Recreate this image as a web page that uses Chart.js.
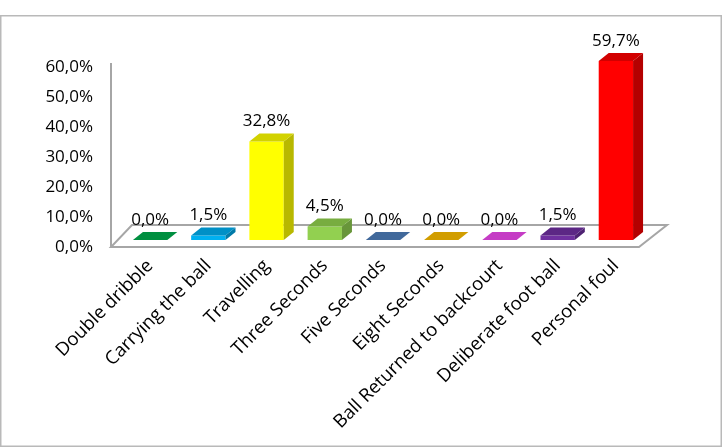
<!DOCTYPE html>
<html>
<head>
<meta charset="utf-8">
<script src="https://cdn.jsdelivr.net/npm/chart.js@4.4.0/dist/chart.umd.min.js"></script>
<style>
  html, body { margin: 0; padding: 0; background: #fff; }
  canvas { display: block; }
</style>
</head>
<body>
<canvas id="foulChart" width="722" height="448"></canvas>
<script>
var categories = [
    'Double dribble',
    'Carrying the ball',
    'Travelling',
    'Three Seconds',
    'Five Seconds',
    'Eight Seconds',
    'Ball Returned to backcourt',
    'Deliberate foot ball',
    'Personal foul'
];
var percentages = [0.0, 1.5, 32.8, 4.5, 0.0, 0.0, 0.0, 1.5, 59.7];
var yTicks = [0, 10, 20, 30, 40, 50, 60];

var frontColors = ['#00b050', '#00b0f0', '#ffff00', '#92d050', '#4f81bd', '#ffc000', '#f04cf0', '#7030a0', '#ff0000'];
var topColors   = ['#008f40', '#0090c6', '#d2d200', '#78ad40', '#41699b', '#d19d00', '#c53cc5', '#5c2785', '#d20000'];
var sideColors  = ['#007a37', '#007aa8', '#b8b800', '#68963a', '#385a86', '#b38700', '#a833a8', '#4e2172', '#b40000'];

var FONT = '"Open Sans", Lato, sans-serif';
var DX = 10, DY = -8;

function pct(v) {
    return v.toFixed(1).replace('.', ',') + '%';
}

// frame, back wall line and floor
var framePlugin = {
    id: 'frame',
    beforeDraw: function(chart) {
        var c = chart.ctx;
        c.save();
        c.strokeStyle = '#b9b9b9';
        c.lineWidth = 1.5;
        c.strokeRect(0.75, 15.75, 720.5, 430.5);
        c.restore();
    },
    beforeDatasetsDraw: function(chart) {
        var c = chart.ctx;
        var a = chart.chartArea;
        var base = chart.scales.y.getPixelForValue(0);
        var wallX = a.left - 10;
        var frontY = base + 7, backY = base - 15;
        c.save();
        c.strokeStyle = '#a6a6a6';
        c.lineWidth = 2;
        c.beginPath();
        c.moveTo(wallX, a.top + 3);
        c.lineTo(wallX, frontY);
        c.stroke();
        c.fillStyle = '#ffffff';
        c.beginPath();
        c.moveTo(wallX, frontY);
        c.lineTo(a.right - 6, frontY);
        c.lineTo(a.right + 22, backY);
        c.lineTo(wallX + 21, backY);
        c.closePath();
        c.fill();
        c.stroke();
        c.restore();
    }
};

// 3D faces and value labels
var depthPlugin = {
    id: 'depth',
    afterDatasetsDraw: function(chart) {
        var c = chart.ctx;
        var meta = chart.getDatasetMeta(0);
        c.save();
        meta.data.forEach(function(bar, i) {
            var p = bar.getProps(['x', 'y', 'base', 'width'], true);
            var l = p.x - p.width / 2, r = p.x + p.width / 2;
            c.fillStyle = sideColors[i];
            c.beginPath();
            c.moveTo(r, p.y);
            c.lineTo(r + DX, p.y + DY);
            c.lineTo(r + DX, p.base + DY);
            c.lineTo(r, p.base);
            c.closePath();
            c.fill();
            c.fillStyle = topColors[i];
            c.beginPath();
            c.moveTo(l, p.y);
            c.lineTo(l + DX, p.y + DY);
            c.lineTo(r + DX, p.y + DY);
            c.lineTo(r, p.y);
            c.closePath();
            c.fill();

            c.fillStyle = '#000';
            c.font = '17px ' + FONT;
            c.textAlign = 'center';
            c.textBaseline = 'middle';
            c.fillText(pct(percentages[i]), p.x, p.y - 20);
        });
        c.restore();
    }
};

var chart = new Chart(document.getElementById('foulChart').getContext('2d'), {
    type: 'bar',
    data: {
        labels: categories,
        datasets: [{
            data: percentages,
            backgroundColor: frontColors,
            borderWidth: 0,
            barPercentage: 0.59,
            categoryPercentage: 1.0
        }]
    },
    options: {
        responsive: false,
        animation: false,
        devicePixelRatio: 1,
        layout: { padding: { top: 60, left: 0, right: 77, bottom: 0 } },
        plugins: {
            legend: { display: false },
            tooltip: { enabled: false }
        },
        scales: {
            x: {
                grid: { display: false, drawTicks: false },
                border: { display: false },
                afterFit: function(scale) { scale.height = 448 - 240; },
                ticks: {
                    autoSkip: false,
                    minRotation: 45,
                    maxRotation: 45,
                    padding: 15,
                    color: '#000',
                    font: { family: FONT, size: 18.5 }
                }
            },
            y: {
                min: yTicks[0],
                max: yTicks[yTicks.length - 1],
                grid: { display: false, drawTicks: false },
                border: { display: false },
                afterFit: function(scale) { scale.width = 121; },
                afterBuildTicks: function(scale) {
                    scale.ticks = yTicks.map(function(v) { return { value: v }; });
                },
                ticks: {
                    padding: 28,
                    labelOffset: 7,
                    color: '#000',
                    font: { family: FONT, size: 17 },
                    callback: function(v) { return pct(v); }
                }
            }
        }
    },
    plugins: [framePlugin, depthPlugin]
});
</script>
</body>
</html>
